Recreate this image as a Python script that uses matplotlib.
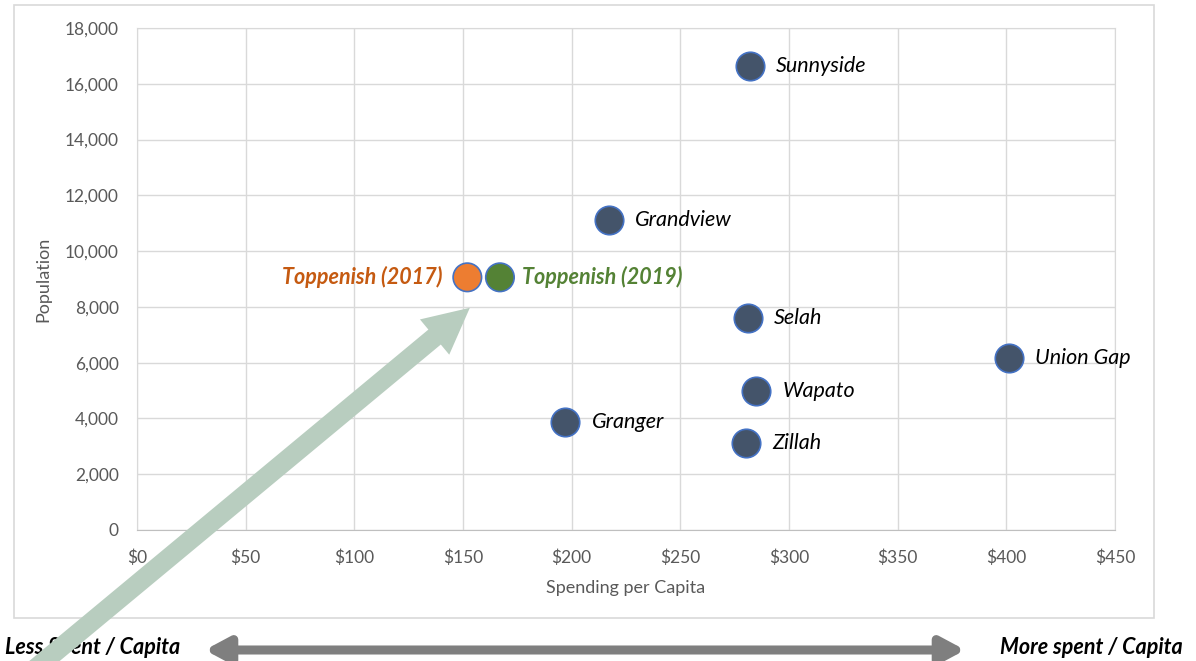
import matplotlib
matplotlib.use("Agg")
import matplotlib.pyplot as plt
from matplotlib.patches import Rectangle, FancyArrowPatch
from matplotlib.ticker import FuncFormatter

# ---- data ----
cities = ["Sunnyside", "Grandview", "Selah", "Union Gap", "Wapato", "Granger", "Zillah"]
spending = [282, 217, 281, 401, 285, 197, 280]
population = [16620, 11120, 7600, 6160, 4980, 3860, 3110]

top_labels = ["Toppenish (2017)", "Toppenish (2019)"]
top_spending = [152, 167]
top_population = [9060, 9060]
top_colors = ["#ED7D31", "#548235"]
top_text_colors = ["#C55A11", "#548235"]

x_ticks = [0, 50, 100, 150, 200, 250, 300, 350, 400, 450]
y_ticks = [0, 2000, 4000, 6000, 8000, 10000, 12000, 14000, 16000, 18000]

FONT = ["Lato", "DejaVu Sans"]
plt.rcParams["font.family"] = FONT

W, H = 1196, 661
fig = plt.figure(figsize=(W / 100, H / 100), dpi=100)

# outer chart border
fig.add_artist(Rectangle((14 / W, 1 - 618 / H), (1154 - 14) / W, (618 - 5) / H,
                         transform=fig.transFigure, fill=False,
                         edgecolor="#D9D9D9", lw=1.2))

ax = fig.add_axes([137 / W, 1 - 530 / H, (1115 - 137) / W, (530 - 28) / H])
ax.set_xlim(0, 450)
ax.set_ylim(0, 18000)
ax.set_xticks(x_ticks)
ax.set_yticks(y_ticks)
ax.xaxis.set_major_formatter(FuncFormatter(lambda v, p: f"${v:,.0f}"))
ax.yaxis.set_major_formatter(FuncFormatter(lambda v, p: f"{v:,.0f}"))
ax.grid(True, color="#D9D9D9", lw=1)
ax.set_axisbelow(True)
for s in ["top", "right", "left"]:
    ax.spines[s].set_color("#D9D9D9")
ax.spines["bottom"].set_color("#BFBFBF")
ax.tick_params(length=0, labelsize=12.5, colors="#595959")
ax.tick_params(axis="x", pad=14)
ax.tick_params(axis="y", pad=13)
ax.set_xlabel("Spending per Capita", fontsize=13, color="#595959", labelpad=10)
ax.set_ylabel("Population", fontsize=13, color="#595959", labelpad=10)

# city points
ax.scatter(spending, population, s=420, color="#44546A", edgecolor="#4472C4",
           linewidth=1.2, zorder=3)
for name, x, y in zip(cities, spending, population):
    ax.annotate(name, (x, y), xytext=(19, 0), textcoords="offset points",
                ha="left", va="center", fontsize=15.5, style="italic",
                color="black", zorder=4)

# Toppenish points
ax.scatter(top_spending, top_population, s=420, color=top_colors,
           edgecolor="#4472C4", linewidth=1.2, zorder=3)
offsets = [(-18, "right"), (16, "left")]
for lab, x, y, c, (dx, ha) in zip(top_labels, top_spending, top_population,
                                 top_text_colors, offsets):
    ax.annotate(lab, (x, y), xytext=(dx, 0), textcoords="offset points",
                ha=ha, va="center", fontsize=15.5, style="italic",
                weight="bold", color=c, zorder=4)

fig.text(5 / W, 1 - 648 / H, "Less Spent / Capita", ha="left", va="center",
         fontsize=15.5, style="italic", weight="bold", color="black")
fig.text(1183 / W, 1 - 648 / H, "More spent / Capita", ha="right", va="center",
         fontsize=15.5, style="italic", weight="bold", color="black")

# big green arrow pointing to Toppenish
fig.add_artist(FancyArrowPatch(
    (30, H - 673), (472, H - 306), transform=None,
    arrowstyle="simple,head_length=33,head_width=33,tail_width=14",
    mutation_scale=1, color="#B8CDBF", lw=0, zorder=10, clip_on=False))

# bottom gray double arrow
fig.add_artist(FancyArrowPatch(
    (202, H - 650), (968, H - 650), transform=None,
    arrowstyle="<|-|>,head_length=14,head_width=7.5",
    mutation_scale=1, color="#7F7F7F", lw=6.5, zorder=5))

fig.savefig("out.png", dpi=100)
